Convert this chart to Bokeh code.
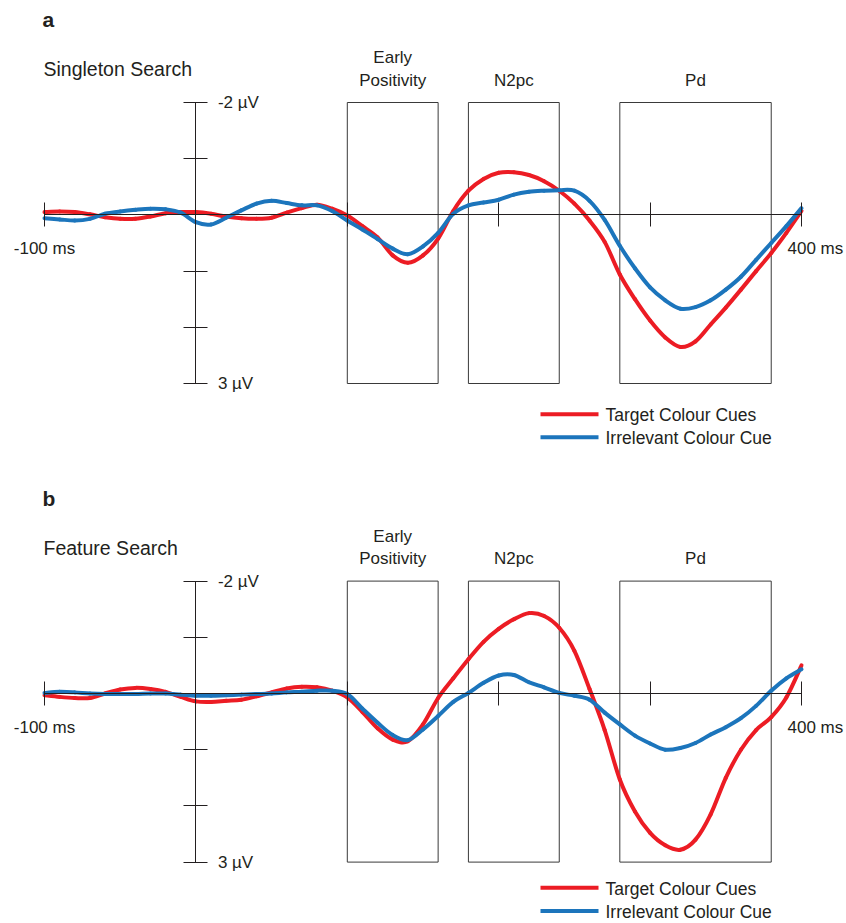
from bokeh.plotting import figure
from bokeh.models import Range1d, LinearAxis, FixedTicker
from bokeh.layouts import column
from bokeh.embed import file_html
from bokeh.resources import INLINE
from bokeh.core.properties import value

# ---------------- data ----------------
times = [-100, -90, -80, -70, -60, -50, -40, -30, -20, -10,
         0, 10, 20, 30, 40, 50, 60, 70, 80, 90,
         100, 110, 120, 130, 140, 150, 160, 170, 180, 190,
         200, 210, 220, 230, 240, 250, 260, 270, 280, 290,
         300, 310, 320, 330, 340, 350, 360, 370, 380, 390,
         400]

# Panel a: Singleton Search (µV, positive plotted downward)
target_a = [-0.05, -0.06, -0.05, -0.01, 0.04, 0.07, 0.07, 0.03, -0.03, -0.05,
            -0.05, -0.02, 0.03, 0.06, 0.07, 0.05, -0.04, -0.12, -0.18, -0.11,
            0.01, 0.20, 0.40, 0.72, 0.85, 0.72, 0.42, -0.07, -0.43, -0.64,
            -0.75, -0.76, -0.71, -0.60, -0.43, -0.20, 0.10, 0.48, 1.06, 1.50,
            1.88, 2.18, 2.35, 2.25, 1.95, 1.65, 1.33, 1.00, 0.68, 0.32,
            -0.07]
irrelevant_a = [0.06, 0.08, 0.10, 0.07, -0.02, -0.06, -0.09, -0.11, -0.10, -0.04,
                0.13, 0.17, 0.05, -0.08, -0.20, -0.25, -0.21, -0.17, -0.17, -0.07,
                0.10, 0.26, 0.43, 0.60, 0.70, 0.56, 0.32, -0.02, -0.17, -0.22,
                -0.27, -0.36, -0.41, -0.43, -0.44, -0.43, -0.25, 0.09, 0.55, 0.95,
                1.29, 1.52, 1.67, 1.64, 1.52, 1.33, 1.10, 0.80, 0.50, 0.20,
                -0.12]

# Panel b: Feature Search
target_b = [0.03, 0.06, 0.08, 0.08, 0.00, -0.07, -0.10, -0.08, -0.03, 0.06,
            0.14, 0.15, 0.13, 0.11, 0.05, -0.02, -0.09, -0.12, -0.11, -0.05,
            0.07, 0.33, 0.62, 0.82, 0.85, 0.55, 0.08, -0.27, -0.61, -0.92,
            -1.15, -1.32, -1.43, -1.38, -1.17, -0.76, -0.08, 0.65, 1.53, 2.10,
            2.48, 2.70, 2.78, 2.60, 2.15, 1.50, 1.00, 0.65, 0.42, 0.07,
            -0.50]
irrelevant_b = [-0.01, -0.03, -0.02, 0.00, 0.01, 0.01, 0.01, 0.00, 0.00, 0.02,
                0.04, 0.04, 0.03, 0.02, 0.01, 0.00, -0.02, -0.03, -0.05, -0.05,
                0.01, 0.27, 0.52, 0.74, 0.83, 0.64, 0.40, 0.15, -0.01, -0.19,
                -0.32, -0.33, -0.20, -0.11, -0.01, 0.04, 0.11, 0.34, 0.55, 0.75,
                0.89, 1.00, 0.97, 0.88, 0.73, 0.60, 0.44, 0.22, -0.05, -0.27,
                -0.43]

window_labels = ["Early\nPositivity", "N2pc", "Pd"]
window_start = [100, 180, 280]
window_end = [160, 240, 380]

x_ticks = [-100, 0, 100, 200, 300, 400]
x_tick_labels = ["-100 ms", "400 ms"]
y_ticks = [-2, -1, 0, 1, 2, 3]
y_tick_labels = {-2: "-2 \u00b5V", 3: "3 \u00b5V"}

legend_labels = ["Target Colour Cues", "Irrelevant Colour Cue"]
panel_letters = ["a", "b"]
panel_titles = ["Singleton Search", "Feature Search"]

# ---------------- styling / geometry ----------------
RED = "#ec1c24"
BLUE = "#1c75bc"
INK = "#231f20"
BOX = "#3a3a3a"
FONT = "Liberation Sans"

FIG_W = 846
PX_PER_MS = 1.514
PX_PER_UV = 56.2
X0_PX = 44.0            # figure px of -100 ms
TDY = -0.125            # text baseline correction (µV units, = 7 px up)


def xd(fig_px):
    return (fig_px - X0_PX) / PX_PER_MS - 100


def smooth_curve(p, xs, ys, color):
    # cubic Bezier pieces passing through every data point (Catmull-Rom)
    n = len(xs)
    x0, y0, x1, y1, cx0, cy0, cx1, cy1 = [], [], [], [], [], [], [], []
    for i in range(n - 1):
        im, ip2 = max(i - 1, 0), min(i + 2, n - 1)
        x0.append(xs[i]); y0.append(ys[i])
        x1.append(xs[i + 1]); y1.append(ys[i + 1])
        cx0.append(xs[i] + (xs[i + 1] - xs[im]) / 6.0)
        cy0.append(ys[i] + (ys[i + 1] - ys[im]) / 6.0)
        cx1.append(xs[i + 1] - (xs[ip2] - xs[i]) / 6.0)
        cy1.append(ys[i + 1] - (ys[ip2] - ys[i]) / 6.0)
    p.bezier(x0=x0, y0=y0, x1=x1, y1=y1, cx0=cx0, cy0=cy0, cx1=cx1, cy1=cy1,
             line_color=color, line_width=4, line_cap="round")


def make_panel(letter, title, target, irrelevant, height, zero_px, legend_dy):
    y_top = -zero_px / PX_PER_UV
    y_bot = (height - zero_px) / PX_PER_UV
    p = figure(width=FIG_W, height=height,
               x_range=Range1d(xd(0), xd(FIG_W)),
               y_range=Range1d(y_bot, y_top),
               x_axis_type=None, y_axis_type=None,
               output_backend="svg", toolbar_location=None,
               min_border=0)
    p.outline_line_color = None
    p.background_fill_color = "white"
    p.border_fill_color = "white"

    # analysis windows
    p.quad(left=window_start, right=window_end,
           top=[y_ticks[0]] * len(window_start),
           bottom=[y_ticks[-1]] * len(window_start),
           fill_color=None, line_color=BOX, line_width=1)

    # axes crossing at zero
    xaxis = LinearAxis(fixed_location=0, ticker=FixedTicker(ticks=x_ticks),
                       bounds=(x_ticks[0], x_ticks[-1]),
                       major_tick_in=12, major_tick_out=12,
                       minor_tick_line_color=None,
                       axis_line_color=INK, major_tick_line_color=INK,
                       major_label_overrides={t: "" for t in x_ticks})
    p.add_layout(xaxis, "below")

    overrides = {t: y_tick_labels.get(t, "") for t in y_ticks}
    yaxis = LinearAxis(fixed_location=0, ticker=FixedTicker(ticks=y_ticks),
                       bounds=(y_ticks[0], y_ticks[-1]),
                       major_tick_in=12, major_tick_out=12,
                       minor_tick_line_color=None,
                       axis_line_color=INK, major_tick_line_color=INK,
                       major_label_overrides=overrides,
                       major_label_standoff=10,
                       major_label_text_font=FONT,
                       major_label_text_font_size="17px",
                       major_label_text_color=INK)
    p.add_layout(yaxis, "right")

    # waveforms
    smooth_curve(p, times, target, RED)
    smooth_curve(p, times, irrelevant, BLUE)

    # window labels
    lx, ly, lt = [], [], []
    for lab, s, e in zip(window_labels, window_start, window_end):
        lines = lab.split("\n")
        for k, ln in enumerate(reversed(lines)):
            lx.append((s + e) / 2)
            ly.append(-2.272 - 0.404 * k + TDY)
            lt.append(ln)
    p.text(x=lx, y=ly, text=lt, text_font=value(FONT),
           text_font_size=value("17px"), text_color=INK,
           text_align="center", text_baseline="alphabetic")

    # x tick labels
    p.text(x=[x_ticks[0]], y=[0.731 + TDY], text=[x_tick_labels[0]],
           text_font=value(FONT), text_font_size=value("17px"),
           text_color=INK, text_align="center", text_baseline="alphabetic")
    p.text(x=[xd(787)], y=[0.731 + TDY], text=[x_tick_labels[1]],
           text_font=value(FONT), text_font_size=value("17px"),
           text_color=INK, text_align="left", text_baseline="alphabetic")

    # panel letter and title
    p.text(x=[xd(42)], y=[-3.352 + TDY], text=[letter], text_font=value(FONT),
           text_font_size=value("21px"), text_font_style="bold",
           text_color=INK, text_align="left", text_baseline="alphabetic")
    p.text(x=[xd(43)], y=[-2.463 + TDY], text=[title], text_font=value(FONT),
           text_font_size=value("19.5px"), text_color=INK,
           text_align="left", text_baseline="alphabetic")

    # legend
    lx0, lx1, tx = xd(540), xd(598), xd(605)
    for i, (lab, col) in enumerate(zip(legend_labels, [RED, BLUE])):
        yl = 3.548 + 0.41 * i + legend_dy
        p.segment(x0=[lx0], y0=[yl], x1=[lx1], y1=[yl], line_color=col,
                  line_width=4)
        p.text(x=[tx], y=[yl + 0.137 + TDY], text=[lab], text_font=value(FONT),
               text_font_size=value("17.5px"), text_color=INK,
               text_align="left", text_baseline="alphabetic")
    return p


pa = make_panel(panel_letters[0], panel_titles[0], target_a, irrelevant_a,
                487, 214.4, 0.0)
pb = make_panel(panel_letters[1], panel_titles[1], target_b, irrelevant_b,
                435, 206.0, -0.09)

layout = column(pa, pb)
open("out.html", "w").write(file_html(layout, INLINE))
